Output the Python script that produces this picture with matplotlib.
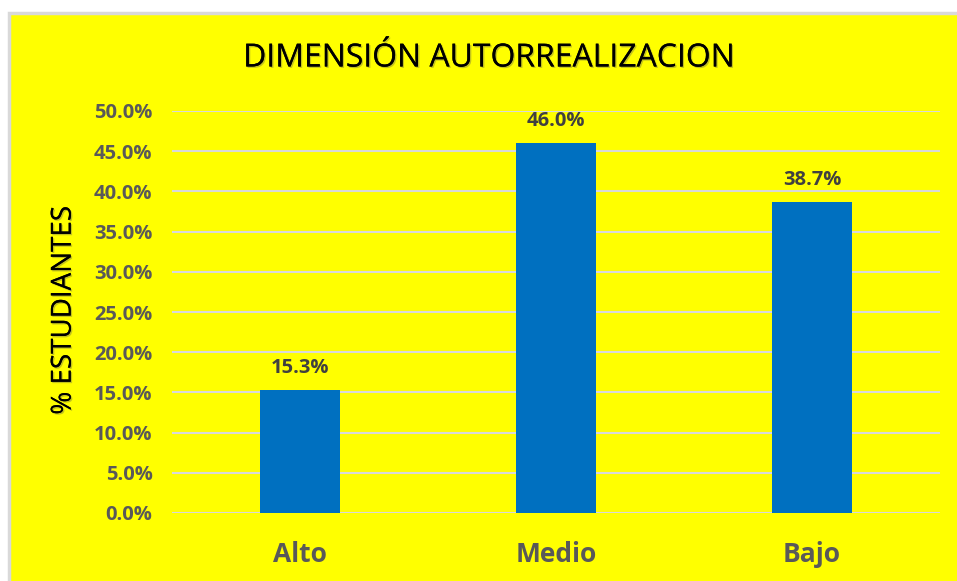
import matplotlib.pyplot as plt
import matplotlib.patheffects as pe
from matplotlib.patches import Rectangle
from matplotlib.ticker import FuncFormatter

categorias = ['Alto', 'Medio', 'Bajo']
porcentajes = [15.3, 46.0, 38.7]
titulo = 'DIMENSIÓN AUTORREALIZACION'
etiqueta_y = '% ESTUDIANTES'

plt.rcParams['font.family'] = ['Open Sans', 'DejaVu Sans']

fig = plt.figure(figsize=(9.57, 5.81), dpi=100)
fig.patch.set_facecolor('white')

# marco amarillo con borde gris
fig.patches.append(Rectangle((9 / 957, -0.01), 1.0, 1.01 - 13 / 581,
                             transform=fig.transFigure, facecolor='#ffff00',
                             edgecolor='#d9d9d9', linewidth=2.5, zorder=-10))

ax = fig.add_axes([172 / 957, 1 - 513 / 581, (940 - 172) / 957, (513 - 111) / 581])
ax.set_facecolor('none')

x = range(len(categorias))
bars = ax.bar(x, porcentajes, width=0.31, color='#0070c0', zorder=3)

ax.set_ylim(0, 50)
ax.set_xlim(-0.5, 2.5)
ax.set_yticks([i * 5 for i in range(11)])
ax.yaxis.set_major_formatter(FuncFormatter(lambda v, p: f'{v:.1f}%'))
ax.grid(axis='y', color='#d9d9d9', linewidth=1.5, zorder=0)
for s in ax.spines.values():
    s.set_visible(False)
ax.tick_params(length=0)
ax.tick_params(axis='y', pad=14, labelsize=14.5, labelcolor='#595959')
ax.tick_params(axis='x', pad=20, labelsize=19, labelcolor='#595959')
ax.set_xticks(list(x))
ax.set_xticklabels(categorias, fontweight='bold')
for t in ax.get_yticklabels():
    t.set_fontweight('bold')

for b, v in zip(bars, porcentajes):
    ax.text(b.get_x() + b.get_width() / 2, v + 1.5, f'{v:.1f}%',
            ha='center', va='bottom', fontsize=14.5, fontweight='bold',
            color='#404040')

sombra = [pe.withSimplePatchShadow(offset=(1, -1), shadow_rgbFace='#555555', alpha=0.35),
          pe.Normal()]

ax.set_ylabel(etiqueta_y, fontsize=20, color='black', va='center',
              path_effects=sombra)
ax.yaxis.set_label_coords(-0.141, 0.504)

fig.text(490 / 957, 1 - 58 / 581, titulo, ha='center', va='center',
         fontsize=23, color='black', path_effects=sombra)

fig.savefig('out.png', dpi=100)
